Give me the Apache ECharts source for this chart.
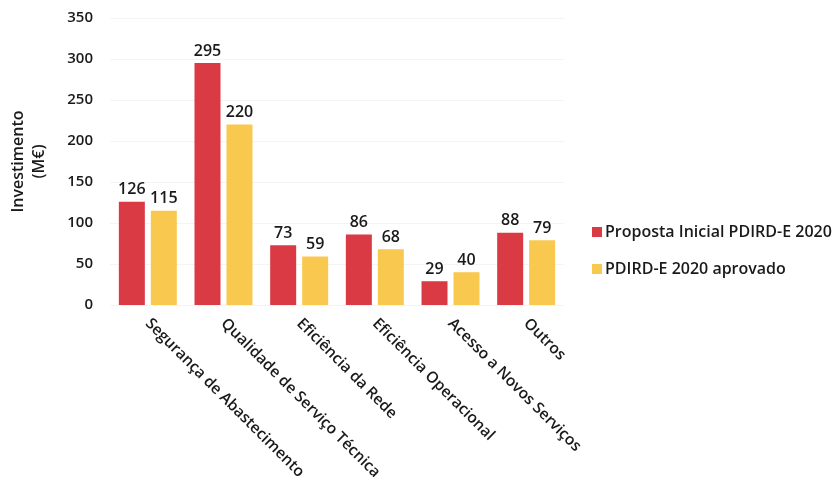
<!DOCTYPE html>
<html>
<head>
<meta charset="utf-8">
<script src="https://cdn.jsdelivr.net/npm/echarts@6/dist/echarts.min.js"></script>
<style>
  html, body { margin: 0; padding: 0; background: #fff; }
  #chart { width: 838px; height: 485px; }
</style>
</head>
<body>
<div id="chart"></div>
<script>
// Investment by category: initial proposal vs approved plan
const categories = [
  'Segurança de Abastecimento',
  'Qualidade de Serviço Técnica',
  'Eficiência da Rede',
  'Eficiência Operacional',
  'Acesso a Novos Serviços',
  'Outros'
];
const propostaInicial = [126, 295, 73, 86, 29, 88];
const aprovado = [115, 220, 59, 68, 40, 79];
const yTicks = [0, 50, 100, 150, 200, 250, 300, 350];

const FONT = '"Open Sans", Lato, sans-serif';
const TEXT = '#1a1a1a';
const WEIGHT = 600;
const chart = echarts.init(document.getElementById('chart'));

const labelStyle = {
  show: true,
  position: 'top',
  distance: 4,
  fontFamily: FONT,
  fontSize: 16,
  fontWeight: WEIGHT,
  color: TEXT
};

chart.setOption({
  animation: false,
  textStyle: { fontFamily: FONT },
  grid: { left: 108, right: 274, top: 18, bottom: 180 },
  legend: {
    orient: 'vertical',
    left: 587,
    top: 219,
    itemWidth: 10,
    itemHeight: 10,
    itemGap: 21,
    icon: 'rect',
    textStyle: { fontFamily: FONT, fontSize: 16, fontWeight: WEIGHT, color: TEXT, padding: [0, 0, 0, -2] },
    data: ['Proposta Inicial PDIRD-E 2020', 'PDIRD-E 2020 aprovado']
  },
  xAxis: {
    type: 'category',
    data: categories,
    axisLine: { show: false },
    axisTick: { show: false },
    axisLabel: {
      rotate: -45,
      margin: 16,
      fontFamily: FONT,
      fontSize: 15.5,
      fontWeight: WEIGHT,
      color: TEXT,
      interval: 0
    }
  },
  yAxis: {
    type: 'value',
    min: yTicks[0],
    max: yTicks[yTicks.length - 1],
    interval: 50,
    name: 'Investimento\n(M€)',
    nameLocation: 'middle',
    nameGap: 60,
    nameTextStyle: { fontFamily: FONT, fontSize: 16, fontWeight: WEIGHT, color: TEXT, lineHeight: 21 },
    axisLine: { show: false },
    axisTick: { show: false },
    axisLabel: { margin: 17, fontFamily: FONT, fontSize: 15, fontWeight: WEIGHT, color: TEXT },
    splitLine: { lineStyle: { color: '#f4f4f4' } }
  },
  series: [
    {
      name: 'Proposta Inicial PDIRD-E 2020',
      type: 'bar',
      data: propostaInicial,
      barWidth: 26,
      barGap: '23%',
      itemStyle: { color: '#d93a44' },
      label: labelStyle
    },
    {
      name: 'PDIRD-E 2020 aprovado',
      type: 'bar',
      data: aprovado,
      barWidth: 26,
      itemStyle: { color: '#f9c94f' },
      label: labelStyle
    }
  ]
});
</script>
</body>
</html>
